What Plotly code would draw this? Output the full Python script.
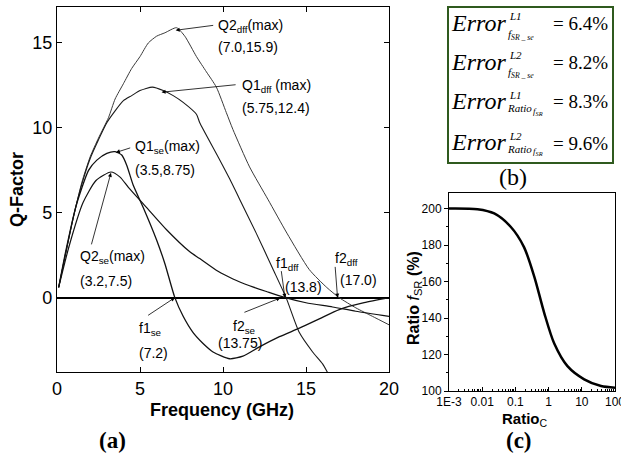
import plotly.graph_objects as go

W, H = 621, 454

# ---------------- data ----------------
# panel (a): Q-factor vs frequency (GHz)
q1_dff_f = [0.1, 0.5, 1.0, 1.5, 2.0, 2.5, 3.0, 3.5, 4.0, 4.5, 5.0, 5.75, 6.4, 7.0, 7.6, 8.4, 8.6, 9.7, 10.4, 11.0, 12.0, 13.0, 13.8, 14.6, 15.4, 16.0, 16.4]
q1_dff_q = [0.6, 2.5, 4.8, 6.7, 8.2, 9.3, 10.3, 11.0, 11.6, 11.9, 12.2, 12.4, 12.2, 11.9, 11.5, 10.8, 10.3, 8.3, 7.0, 5.8, 3.8, 1.7, 0.0, -2.06, -3.2, -3.9, -4.6]

q2_dff_f = [0.1, 0.5, 1.0, 1.5, 2.0, 2.5, 3.1, 3.5, 4.0, 4.5, 5.0, 5.5, 6.0, 6.5, 7.2, 7.7, 8.4, 9.0, 9.6, 10.2, 10.6, 11.6, 12.7, 13.85, 15.2, 16.25, 17.0, 18.0, 19.0, 20.0]
q2_dff_q = [0.6, 2.5, 4.8, 6.8, 8.3, 9.4, 10.6, 11.7, 12.6, 13.5, 14.2, 15.0, 15.4, 15.6, 15.9, 15.4, 14.2, 13.3, 12.4, 10.9, 9.9, 7.7, 5.8, 3.8, 1.65, 0.6, 0.0, -0.6, -1.1, -1.6]

q1_se_f = [0.1, 0.5, 1.15, 1.9, 2.4, 3.0, 3.5, 3.9, 4.2, 4.6, 5.2, 6.0, 6.5, 7.1, 7.6, 8.2, 8.8, 9.4, 10.4, 11.2, 12.2, 13.4, 14.6, 15.8, 17.0, 18.5, 20.0]
q1_se_q = [0.6, 2.6, 5.4, 7.5, 8.1, 8.5, 8.6, 8.4, 7.8, 6.6, 5.3, 3.4, 2.0, 0.0, -1.1, -2.06, -2.7, -3.2, -3.6, -3.45, -2.9, -2.3, -1.8, -1.25, -0.7, -0.3, 0.0]

q2_se_f = [0.1, 0.72, 1.57, 2.35, 3.25, 3.8, 4.3, 5.36, 6.6, 8.0, 8.6, 9.7, 10.6, 11.6, 12.65, 13.75, 15.0, 16.6, 18.0, 20.0]
q2_se_q = [0.6, 3.0, 5.6, 6.9, 7.4, 7.1, 6.5, 5.35, 4.0, 2.7, 2.3, 1.55, 1.1, 0.7, 0.35, 0.0, -0.3, -0.55, -0.8, -1.1]

freq_ticks = [0, 5, 10, 15, 20]
q_ticks = [0, 5, 10, 15]

# panel (c): Ratio_fSR (%) vs Ratio_C
ratio_c = [0.001, 0.0072, 0.023, 0.072, 0.18, 0.37, 0.74, 1.48, 3.7, 11.8, 38, 100]
ratio_f = [200, 199.6, 197.3, 190, 179, 162.7, 142.7, 126, 113.6, 106.4, 102.7, 101.8]
rc_ticks = [0.001, 0.01, 0.1, 1, 10, 100]
rc_ticktext = ["1E-3", "0.01", "0.1", "1", "10", "100"]
rf_ticks = [100, 120, 140, 160, 180, 200]

# panel (b): error table
err_sup = ["L1", "L2", "L1", "L2"]
err_val = ["= 6.4%", "= 8.2%", "= 8.3%", "= 9.6%"]

# ---------------- helpers ----------------
def pxx(x):
    return x / W

def pxy(y):
    return 1 - y / H

ARIAL = "Liberation Sans, Arial, sans-serif"
TIMES = "Liberation Serif, Times New Roman, serif"
NARROW = "Liberation Sans Narrow, Arial Narrow, Liberation Sans, sans-serif"

fig = go.Figure()
for f, q, c, w in [(q2_dff_f, q2_dff_q, "#3a3a3a", 1.0),
                   (q1_dff_f, q1_dff_q, "#1a1a1a", 1.1),
                   (q1_se_f, q1_se_q, "#111111", 1.3),
                   (q2_se_f, q2_se_q, "#111111", 1.2)]:
    fig.add_trace(go.Scatter(x=f, y=q, mode="lines", xaxis="x", yaxis="y",
                             line=dict(color=c, width=w, shape="spline", smoothing=0.6),
                             hoverinfo="skip"))

fig.add_trace(go.Scatter(x=ratio_c, y=ratio_f, mode="lines", xaxis="x2", yaxis="y2",
                         line=dict(color="black", width=2.5, shape="spline", smoothing=0.8),
                         hoverinfo="skip"))

ann = []

def text(x, y, t, size=14, xanchor="left", yanchor="middle", xref="x", yref="y",
         family=ARIAL, angle=0):
    ann.append(dict(x=x, y=y, xref=xref, yref=yref, text=t, showarrow=False,
                    xanchor=xanchor, yanchor=yanchor, textangle=angle,
                    font=dict(family=family, size=size, color="black")))

def arrow(x, y, ax, ay):
    ann.append(dict(x=x, y=y, ax=ax, ay=ay, xref="x", yref="y", axref="x", ayref="y",
                    text="", showarrow=True, arrowhead=2, arrowsize=1.0,
                    arrowwidth=0.8, arrowcolor="black", standoff=0, startstandoff=0))

# panel (a) annotations
text(9.6, 16.0, "Q2<sub>dff</sub>(max)")
text(9.6, 14.75, "(7.0,15.9)")
arrow(7.15, 15.75, 9.5, 16.05)

text(11.0, 12.45, "Q1<sub>dff</sub> (max)")
text(11.0, 11.15, "(5.75,12.4)")
arrow(6.3, 12.1, 10.85, 12.55)

text(4.6, 8.85, "Q1<sub>se</sub>(max)")
text(4.6, 7.5, "(3.5,8.75)")
arrow(3.55, 8.55, 4.5, 8.85)

text(1.27, 2.4, "Q2<sub>se</sub>(max)")
text(1.27, 1.0, "(3.2,7.5)")
arrow(3.25, 7.35, 2.05, 3.05)

text(4.8, -1.85, "f1<sub>se</sub>")
text(4.8, -3.25, "(7.2)")
arrow(7.1, 0.0, 5.4, -1.1)

text(10.5, -1.7, "f2<sub>se</sub>")
text(9.6, -2.65, "(13.75)")
arrow(13.45, -0.02, 11.2, -0.9)

text(13.1, 2.0, "f1<sub>dff</sub>")
text(13.6, 0.65, "(13.8)")
arrow(13.73, 0.0, 13.5, 1.65)

text(16.6, 2.3, "f2<sub>dff</sub>")
text(16.9, 1.05, "(17.0)")
arrow(16.9, 0.0, 16.75, 1.9)

# axis titles panel (a)
text(pxx(17), pxy(190), "<b>Q-Factor</b>", size=18, xanchor="center", yanchor="middle",
     xref="paper", yref="paper", angle=-90)
text(pxx(222), pxy(410), "<b>Frequency (GHz)</b>", size=18, xanchor="center",
     yanchor="middle", xref="paper", yref="paper")
text(pxx(112), pxy(440), "<b>(a)</b>", size=23, xanchor="center", yanchor="middle",
     xref="paper", yref="paper", family=TIMES)

# panel (c) titles
text(pxx(414), pxy(298), "<b>Ratio</b> <i>f</i><sub>SR</sub> <b>(%)</b>", size=16,
     xanchor="center", yanchor="middle", xref="paper", yref="paper", angle=-90)
text(pxx(525), pxy(419), "<b>Ratio</b><sub>C</sub>", size=15, xanchor="center",
     yanchor="middle", xref="paper", yref="paper")
text(pxx(519), pxy(440), "<b>(c)</b>", size=23, xanchor="center", yanchor="middle",
     xref="paper", yref="paper", family=TIMES)

# panel (b) error box
row_y = [23, 62, 101, 142]
sup_y = [16, 55, 95, 136]
for i in range(4):
    text(pxx(449), pxy(row_y[i]), "<i>Error</i>", size=24, xref="paper", yref="paper",
         family=TIMES)
    text(pxx(507), pxy(sup_y[i]), "<i>" + err_sup[i] + "</i>", size=11, xref="paper",
         yref="paper", family=TIMES)
    text(pxx(551), pxy(row_y[i] + 1), err_val[i], size=19, xref="paper", yref="paper",
         family=TIMES)
text(pxx(506), pxy(35), "<i>f</i><sub><i>SR _ se</i></sub>", size=11, xref="paper",
     yref="paper", family=TIMES)
text(pxx(506), pxy(73), "<i>f</i><sub><i>SR _ se</i></sub>", size=11, xref="paper",
     yref="paper", family=TIMES)
for yy in (108, 149):
    text(pxx(505), pxy(yy), "<i>Ratio</i>", size=11, xref="paper", yref="paper",
         family=TIMES)
    text(pxx(531), pxy(yy + 3), "<i>f</i><sub><i>SR</i></sub>", size=9, xref="paper",
         yref="paper", family=TIMES)
text(pxx(513), pxy(177), "(b)", size=24, xanchor="center", yanchor="middle",
     xref="paper", yref="paper", family=TIMES)

shapes = [dict(type="rect", xref="paper", yref="paper",
               x0=pxx(448), x1=pxx(613), y0=pxy(163), y1=pxy(7),
               line=dict(color="#2f5a1e", width=2), fillcolor="rgba(0,0,0,0)")]

minor_log = [m * 10 ** e for e in range(-3, 2) for m in range(2, 10)]

fig.update_layout(
    template="none",
    width=W, height=H, margin=dict(l=0, r=0, t=0, b=0, pad=0),
    paper_bgcolor="white", plot_bgcolor="white", showlegend=False,
    annotations=ann, shapes=shapes,
    xaxis=dict(domain=[pxx(57), pxx(389)], range=[0, 20], tickvals=freq_ticks,
               ticks="inside", ticklen=5, tickcolor="black", showline=True,
               linecolor="black", linewidth=1.3, mirror="ticks", showgrid=False,
               zeroline=False, automargin=False,
               tickfont=dict(family=ARIAL, size=18, color="black"), anchor="y"),
    yaxis=dict(domain=[pxy(372), pxy(7)], range=[-4.38, 17.12], tickvals=q_ticks,
               ticks="inside", ticklen=5, tickcolor="black", showline=True,
               linecolor="black", linewidth=1.3, mirror="ticks", showgrid=False,
               zeroline=True, zerolinecolor="black", zerolinewidth=1.5, automargin=False,
               tickfont=dict(family=ARIAL, size=18, color="black"), anchor="x"),
    xaxis2=dict(domain=[pxx(449), pxx(615)], type="log", range=[-3, 2],
                tickvals=rc_ticks, ticktext=rc_ticktext, ticks="inside", ticklen=4,
                tickcolor="black", showline=True, linecolor="black", linewidth=1,
                mirror=True, showgrid=False, zeroline=False, automargin=False,
                ticklabeloverflow="allow",
                minor=dict(tickvals=minor_log, ticks="inside", ticklen=2,
                           tickcolor="black", showgrid=False),
                tickfont=dict(family=NARROW, size=12, color="black"), anchor="y2"),
    yaxis2=dict(domain=[pxy(391), pxy(193)], range=[100, 208.5], tickvals=rf_ticks,
                ticks="outside", ticklen=4, tickcolor="black", showline=True,
                linecolor="black", linewidth=1, mirror=True, showgrid=False,
                zeroline=False, automargin=False,
                minor=dict(dtick=10, ticks="outside", ticklen=2, tickcolor="black",
                           showgrid=False),
                tickfont=dict(family=NARROW, size=12, color="black"), anchor="x2"),
)

fig.write_html("out.html", config={"displayModeBar": False},
               post_script="document.body.style.margin='0';document.body.style.overflow='hidden';")
